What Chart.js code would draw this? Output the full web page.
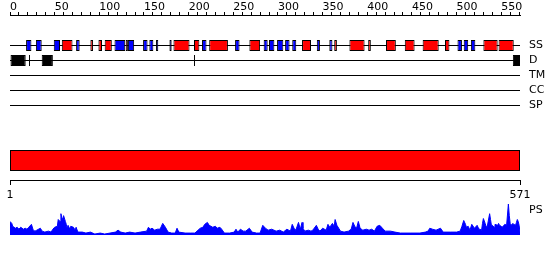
<!DOCTYPE html>
<html>
<head>
<meta charset="utf-8">
<script src="https://cdn.jsdelivr.net/npm/chart.js@4.4.1/dist/chart.umd.min.js"></script>
<style>
  html, body { margin: 0; padding: 0; background: #fff; }
</style>
</head>
<body>
<canvas id="chart" width="550" height="260"></canvas>
<script>
// sequence and axes
const SEQ_LEN = 571;
const TOP_TICK_STEP = 10;
const TOP_TICK_LABELS = [0, 50, 100, 150, 200, 250, 300, 350, 400, 450, 500, 550];
const BOTTOM_TICK_LABELS = [1, 571];

// secondary structure (residue ranges)
const HELIX = [[58, 70], [90, 93], [99, 103], [106, 114], [129.5, 132], [183, 201], [206, 212],
  [223, 244], [268, 280], [327, 337], [363, 366], [380, 397], [401, 404], [421, 432], [442, 453],
  [462, 480], [487, 492], [530, 546], [547, 564]];
const STRAND = [[18, 24], [29, 35.5], [49, 56], [74, 78], [117, 129], [132, 139], [149, 154],
  [156, 160.5], [163.5, 166], [178.5, 181], [215, 220], [252, 257], [284, 288.5], [290, 296],
  [299, 306], [308, 313], [316, 320.5], [343.5, 347], [357.5, 361], [501, 506], [508, 513], [516, 521]];

// disorder
const DISORDER = [[0, 17.6], [21.3, 22.4], [35.5, 48], [206, 207.1], [563, 571]];

// domain
const DOMAIN = [[1, 571]];

// PS profile
const PS_POS = [0, 2, 3, 6, 8, 10, 12, 15, 17, 19, 21, 24, 26, 28, 30, 34, 36, 39, 43, 46, 48, 50,
  53, 54, 56, 57, 58, 59, 60, 62, 63, 64, 65, 67, 68, 71, 73, 74, 76, 81, 85, 90, 95, 101, 106, 112,
  118, 121, 124, 129, 134, 140, 146, 153, 155, 157, 159, 162, 165, 168, 171, 174, 177, 181, 185, 187,
  189, 196, 202, 207, 213, 216, 218, 221, 223, 225, 227, 230, 232, 235, 237, 240, 246, 251, 253, 255,
  258, 261, 264, 268, 271, 276, 280, 283, 286, 289, 293, 298, 302, 306, 310, 314, 316, 318, 320, 323,
  325, 327, 328, 330, 334, 337, 339, 343, 345, 347, 350, 354, 356, 358, 361, 363, 364, 366, 370, 374,
  379, 382, 384, 386, 388, 390, 392, 395, 399, 402, 405, 408, 411, 414, 417, 420, 426, 431, 437, 448,
  459, 465, 468, 470, 473, 477, 482, 485, 493, 500, 504, 506, 508, 510, 511, 513, 515, 517, 520, 521,
  523, 525, 526, 528, 529, 530, 532, 533, 534, 537, 538, 539, 540, 542, 543, 546, 547, 548, 550, 551,
  553, 554, 556, 558, 559, 560, 561, 563, 564, 566, 567, 568, 569, 570, 571];
const PS_VAL = [14, 12, 9, 7, 8, 6, 8, 6, 7, 6, 8, 11, 5, 4, 5, 7, 4, 3, 4, 3, 6, 8,
  9, 16, 14, 22, 18, 16, 20, 14, 11, 7, 10, 6, 9, 8, 5, 8, 3, 3, 2, 3, 1, 2, 1, 2,
  3, 5, 3, 2, 3, 2, 3, 4, 8, 6, 7, 5, 6, 6, 12, 8, 3, 2, 2, 7,
  3, 2, 2, 2, 7, 8, 11, 13, 10, 9, 8, 9, 7, 8, 6, 2, 2, 3, 6, 3,
  6, 4, 4, 7, 3, 2, 2, 10, 7, 5, 6, 4, 5, 3, 6, 4, 11, 7, 5, 13,
  6, 13, 7, 4, 5, 4, 5, 10, 6, 4, 7, 5, 11, 8, 12, 9, 16, 10, 4, 3,
  4, 6, 13, 9, 7, 14, 7, 5, 6, 5, 6, 4, 9, 10, 7, 4, 4, 3, 2, 2,
  2, 3, 4, 7, 6, 5, 7, 3, 3, 3, 4, 9, 15, 11, 8, 9, 5, 11, 7, 8,
  10, 6, 6, 5, 12, 17, 12, 9, 7, 22, 16, 10, 10, 8, 11, 10, 12, 10, 9, 8,
  10, 11, 10, 32, 20, 12, 10, 12, 11, 10, 13, 16, 14, 10, 3];
const PS_MAX = 32;

// layout: track rows (15px each, chart area 15..240)
const ROWS = 15;
const ROW = { SS: 2, D: 3, TM: 4, CC: 5, SP: 6, DOMAIN: 9.667, AXIS: 11 };
const RIGHT_LABELS = [
  { row: 2, text: 'SS' }, { row: 3, text: 'D' }, { row: 4, text: 'TM' },
  { row: 5, text: 'CC' }, { row: 6, text: 'SP' }, { row: 13, text: 'PS' }
];
const ROW_SHIFT = 1 / 30;

Chart.defaults.font.family = "'DejaVu Sans', sans-serif";
Chart.defaults.font.size = 11;
Chart.defaults.color = '#000';

function boxes(label, regions, row, color, thickness, xAxis) {
  return {
    type: 'bar',
    label: label,
    indexAxis: 'y',
    xAxisID: xAxis || 'x',
    yAxisID: 'yb',
    grouped: false,
    data: regions.map(r => ({ x: r, y: row })),
    backgroundColor: color,
    borderColor: '#000',
    borderWidth: 1,
    borderSkipped: false,
    inflateAmount: 0,
    barThickness: thickness,
    order: 0
  };
}

function trackLine(label, row) {
  return {
    type: 'line',
    label: label,
    indexAxis: 'x',
    xAxisID: 'x',
    yAxisID: 'y',
    data: [{ x: 0, y: row }, { x: SEQ_LEN, y: row }],
    borderColor: '#000',
    borderWidth: 1,
    pointRadius: 0,
    fill: false,
    order: 1
  };
}

const topTicks = [];
for (let v = 0; v < SEQ_LEN; v += TOP_TICK_STEP) topTicks.push({ value: v });

const psMin = -PS_MAX * 5 / 31;
const psMax = PS_MAX * 220 / 31;

new Chart(document.getElementById('chart'), {
  type: 'bar',
  data: {
    datasets: [
      boxes('Helix', HELIX, ROW.SS, '#ff0000', 11),
      boxes('Strand', STRAND, ROW.SS, '#0000ff', 11),
      boxes('Disorder', DISORDER, ROW.D, '#000000', 11),
      boxes('Domain', DOMAIN, ROW.DOMAIN, '#ff0000', 21, 'x2'),
      trackLine('SS', ROW.SS),
      trackLine('D', ROW.D),
      trackLine('TM', ROW.TM),
      trackLine('CC', ROW.CC),
      trackLine('SP', ROW.SP),
      {
        type: 'line',
        label: 'PS',
        indexAxis: 'x',
        xAxisID: 'x',
        yAxisID: 'yPS',
        data: PS_POS.map((p, i) => ({ x: p, y: PS_VAL[i] })),
        borderColor: '#0000ff',
        backgroundColor: '#0000ff',
        borderWidth: 1,
        pointRadius: 0,
        tension: 0,
        fill: 'origin',
        order: 2
      }
    ]
  },
  options: {
    responsive: false,
    animation: false,
    devicePixelRatio: 1,
    events: [],
    layout: { padding: { left: 10, right: 0, top: 0, bottom: 20 } },
    plugins: { legend: { display: false }, tooltip: { enabled: false } },
    scales: {
      x: {
        type: 'linear',
        axis: 'x',
        position: 'top',
        min: 0,
        max: SEQ_LEN,
        offset: false,
        stacked: false,
        afterBuildTicks: s => { s.ticks = topTicks.slice(); },
        afterFit: s => { s.height = 15; },
        grid: { drawOnChartArea: false, offset: false, tickLength: 3, color: '#000', lineWidth: 1 },
        border: { color: '#000', width: 1 },
        ticks: {
          align: 'start',
          padding: -1,
          autoSkip: false,
          maxRotation: 0,
          minRotation: 0,
          font: { size: 11, lineHeight: 1 },
          callback: v => TOP_TICK_LABELS.includes(v) ? String(v) : ''
        }
      },
      x2: {
        type: 'linear',
        axis: 'x',
        position: { y: ROW.AXIS },
        min: BOTTOM_TICK_LABELS[0],
        max: BOTTOM_TICK_LABELS[1],
        offset: false,
        stacked: false,
        afterBuildTicks: s => { s.ticks = BOTTOM_TICK_LABELS.map(v => ({ value: v })); },
        afterFit: s => { s.height = 0; },
        grid: { drawOnChartArea: false, offset: false, tickLength: 4, color: '#000', lineWidth: 1 },
        border: { color: '#000', width: 1 },
        ticks: {
          padding: 5,
          autoSkip: false,
          maxRotation: 0,
          minRotation: 0,
          font: { size: 11, lineHeight: 1 },
          callback: v => String(v)
        }
      },
      y: {
        type: 'linear',
        axis: 'y',
        position: 'right',
        reverse: true,
        min: -ROW_SHIFT,
        max: ROWS - ROW_SHIFT,
        offset: false,
        afterBuildTicks: s => { s.ticks = RIGHT_LABELS.map(l => ({ value: l.row })); },
        afterFit: s => { s.width = 30; },
        grid: { display: false, offset: false },
        border: { display: false },
        ticks: {
          padding: 1,
          autoSkip: false,
          font: { size: 11 },
          callback: v => {
            const l = RIGHT_LABELS.find(r => r.row === v);
            return l ? l.text : '';
          }
        }
      },
      yb: {
        type: 'linear',
        axis: 'y',
        display: false,
        reverse: true,
        offset: false,
        grid: { offset: false },
        min: -ROW_SHIFT,
        max: ROWS - ROW_SHIFT
      },
      yPS: {
        type: 'linear',
        axis: 'y',
        display: false,
        offset: false,
        min: psMin,
        max: psMax
      }
    }
  }
});
</script>
</body>
</html>
